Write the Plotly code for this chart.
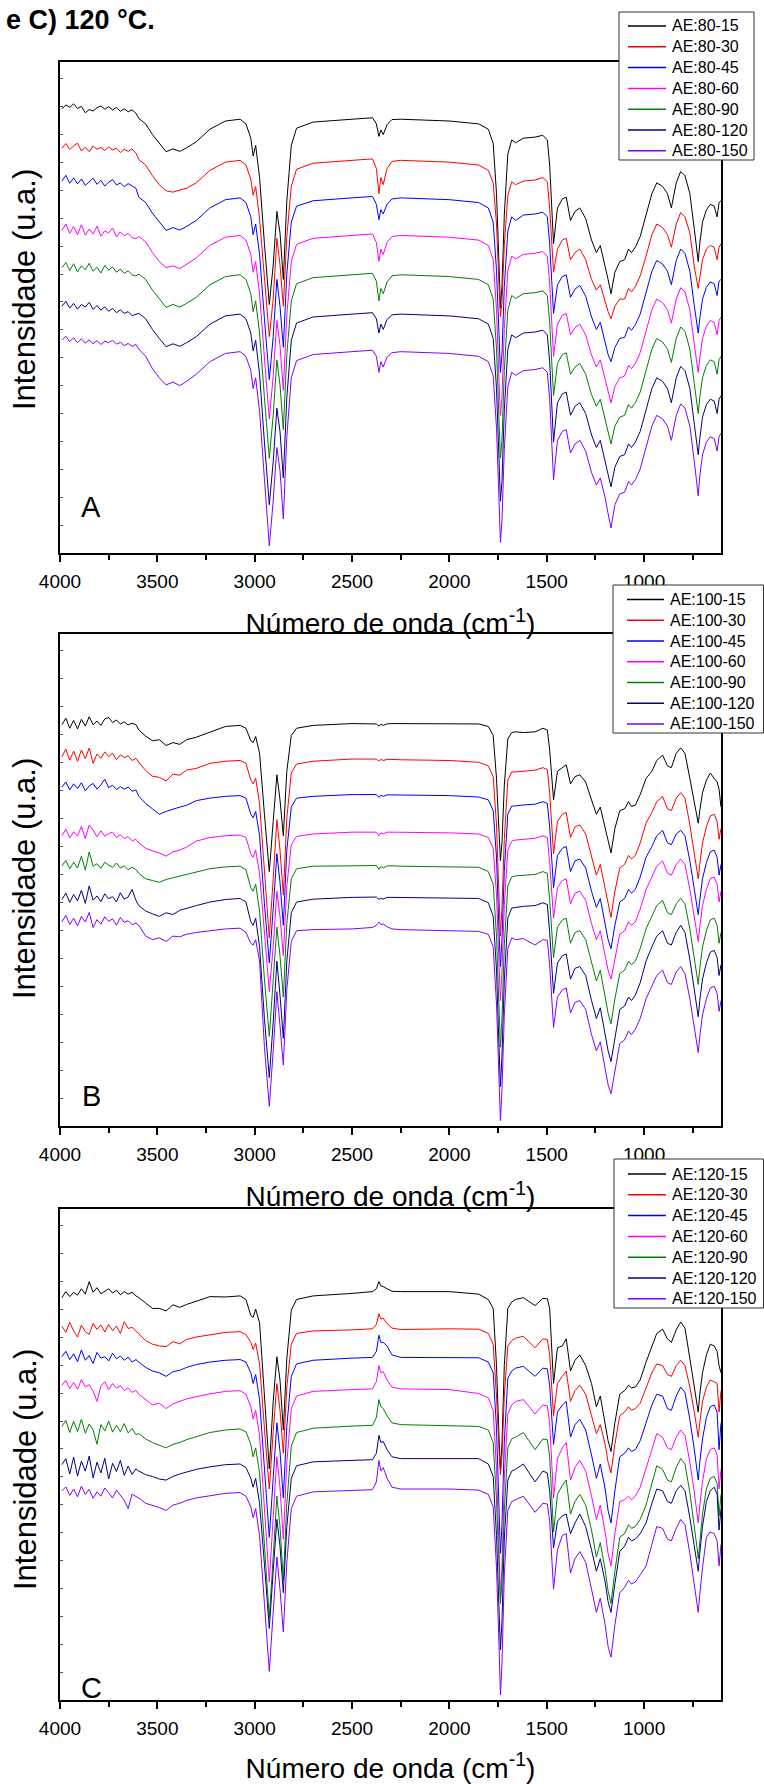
import plotly.graph_objects as go

# Wavenumbers (cm-1) at which the spectra were read
W = [3990, 3970, 3950, 3930, 3910, 3890, 3870, 3850, 3830, 3810, 3790, 3770, 3750, 3730, 3710, 3690, 3670, 3650, 3630, 3610,
     3595, 3560, 3525, 3490, 3455, 3420, 3385, 3350, 3300, 3230, 3150, 3075,
     3045, 3020, 3008, 2995, 2975, 2950, 2925, 2905, 2886, 2870, 2853, 2835, 2812, 2785,
     2700, 2500, 2395, 2375, 2362, 2352, 2340, 2320, 2295, 2250, 2000, 1850,
     1800, 1775, 1758, 1745, 1738, 1730, 1718, 1700, 1680,
     1660, 1620, 1560, 1520, 1497, 1485,
     1465, 1445, 1420, 1400, 1378, 1355, 1330, 1300, 1270, 1245, 1225, 1200, 1185, 1170, 1150, 1125, 1100, 1080, 1065, 1045, 1020,
     990, 960, 935, 905, 880, 860, 835, 812, 790, 765, 742, 728, 722, 714, 700, 680, 660, 640, 625, 615, 605]

# ---------------- Panel A (80 °C) ----------------
A_80_15 = [124.2, 125.3, 124.6, 125.6, 124.3, 124.9, 123.1, 124.0, 123.6, 124.5, 125.0, 124.1, 124.8, 123.9, 124.6, 123.5, 124.2, 123.4, 123.9, 123.0,
           121.5, 120.0, 117.0, 114.5, 112.2, 113.0, 112.3, 113.3, 115.0, 118.5, 120.8, 121.3,
           120.0, 116.0, 111.0, 114.0, 105.0, 86.5, 69.5, 80.5, 95.5, 89.5, 76.5, 98.5, 114.0, 118.8,
           120.5, 121.3, 121.7, 120.0, 116.5, 118.3, 117.0, 119.8, 121.2, 121.3, 120.8, 120.0,
           118.5, 114.5, 100.5, 80.5, 68.5, 74.5, 94.5, 111.5, 115.5,
           114.7, 116.0, 116.3, 116.8, 115.5, 108.5,
           86.5, 96.5, 99.0, 99.5, 93.0, 95.5, 96.5, 93.5, 87.5, 84.0, 86.0, 80.5, 76.5, 72.5, 78.5, 81.5, 82.0, 85.0, 84.0, 85.5, 88.5,
           94.5, 100.5, 103.5, 102.5, 100.5, 96.5, 103.5, 106.7, 105.5, 100.5, 90.5, 84.5, 81.5, 86.5, 92.5, 96.0, 97.5, 97.0, 94.0, 98.0, 98.5]
A_80_30 = [113.2, 114.5, 112.8, 113.9, 114.6, 112.4, 113.5, 112.2, 113.8, 112.9, 113.4, 112.5, 113.6, 112.7, 113.2, 112.0, 112.9, 112.3, 113.0, 111.8,
           110.0, 108.5, 105.5, 103.0, 101.3, 100.9, 101.5, 102.0, 103.5, 107.0, 109.3, 109.8,
           108.5, 104.5, 100.0, 102.5, 93.5, 76.5, 60.5, 71.0, 88.0, 80.5, 69.0, 88.5, 102.5, 107.3,
           109.0, 109.8, 110.2, 107.5, 100.5, 105.0, 103.0, 107.5, 109.5, 109.8, 109.3, 108.5,
           107.0, 103.5, 92.0, 74.5, 66.0, 70.0, 86.0, 100.0, 103.8,
           103.0, 104.0, 104.3, 105.0, 103.8, 96.5,
           78.5, 85.0, 87.5, 88.0, 82.0, 84.0, 85.0, 82.0, 76.5, 73.5, 75.0, 70.0, 67.5, 65.5, 69.0, 71.0, 71.0, 74.0, 73.0, 74.5, 77.5,
           83.0, 89.0, 92.0, 91.0, 89.0, 85.5, 92.0, 95.2, 94.0, 89.5, 80.0, 76.0, 74.0, 77.0, 82.0, 85.0, 86.0, 85.5, 82.0, 85.5, 86.5]
A_80_45 = [104.0, 105.6, 103.4, 104.9, 103.2, 104.6, 102.8, 103.9, 104.8, 103.1, 104.2, 102.6, 103.7, 104.4, 102.9, 103.5, 102.4, 103.3, 102.7, 102.0,
           99.5, 98.0, 95.0, 92.5, 90.2, 91.0, 90.3, 91.3, 93.0, 96.5, 98.8, 99.3,
           98.0, 94.0, 89.0, 92.0, 83.5, 65.5, 48.5, 60.5, 76.5, 69.0, 57.5, 78.0, 92.5, 97.0,
           98.5, 99.3, 99.7, 97.5, 93.2, 96.0, 94.8, 97.5, 99.0, 99.3, 98.8, 98.0,
           96.5, 92.5, 79.0, 61.0, 50.5, 55.5, 74.5, 90.0, 94.0,
           93.0, 94.5, 94.8, 95.3, 94.0, 86.5,
           67.0, 75.0, 77.3, 77.8, 71.5, 73.8, 74.8, 71.8, 66.0, 62.5, 64.5, 59.0, 55.5, 53.5, 57.5, 60.0, 60.3, 63.2, 62.3, 63.8, 66.8,
           72.8, 78.8, 81.8, 80.8, 78.8, 75.0, 81.8, 85.0, 83.8, 78.8, 69.0, 63.5, 61.5, 65.5, 71.0, 74.3, 75.8, 75.3, 72.0, 76.0, 76.5]
A_80_60 = [90.2, 92.0, 89.4, 91.3, 89.0, 91.8, 88.9, 90.6, 89.2, 91.4, 88.6, 90.1, 89.5, 90.9, 88.4, 89.8, 88.7, 89.4, 88.2, 87.9,
           88.5, 87.0, 84.0, 81.5, 79.8, 80.3, 79.5, 80.8, 82.5, 86.0, 88.3, 88.8,
           87.5, 83.5, 78.5, 81.5, 72.5, 54.5, 37.5, 49.5, 65.0, 58.0, 45.5, 66.5, 81.5, 86.3,
           88.0, 88.8, 89.2, 86.8, 81.6, 85.0, 83.5, 86.8, 88.5, 88.8, 88.3, 87.5,
           86.0, 82.0, 68.0, 48.0, 38.5, 43.5, 62.5, 79.0, 83.0,
           82.2, 83.5, 83.8, 84.3, 83.0, 75.5,
           55.0, 64.0, 66.5, 67.0, 61.0, 63.0, 64.0, 61.0, 55.3, 52.0, 54.0, 48.5, 44.8, 42.0, 46.5, 49.0, 49.5, 52.5, 51.5, 53.0, 56.0,
           62.0, 68.0, 71.0, 70.0, 68.0, 64.3, 71.0, 74.2, 73.0, 68.0, 58.3, 52.5, 50.5, 54.5, 60.0, 63.5, 65.0, 64.5, 61.0, 65.0, 66.0]
A_80_90 = [79.8, 81.2, 79.0, 80.9, 78.6, 80.3, 79.2, 81.0, 78.8, 79.9, 78.3, 80.4, 79.1, 80.0, 78.5, 79.4, 78.2, 78.9, 77.8, 77.5,
           78.0, 76.5, 73.5, 71.0, 68.7, 69.5, 68.8, 69.8, 71.5, 75.0, 77.3, 77.8,
           76.5, 72.5, 67.5, 70.5, 61.5, 43.5, 26.5, 38.5, 54.0, 47.0, 34.5, 55.5, 70.5, 75.3,
           77.0, 77.8, 78.2, 76.0, 70.5, 74.0, 72.5, 75.8, 77.5, 77.8, 77.3, 76.5,
           75.0, 71.0, 57.0, 37.0, 26.5, 31.5, 51.0, 68.0, 72.0,
           71.2, 72.5, 72.8, 73.3, 72.0, 64.5,
           44.0, 53.0, 55.5, 56.0, 50.0, 52.0, 53.0, 50.0, 44.3, 41.0, 43.0, 37.5, 33.8, 30.5, 35.5, 38.0, 38.5, 41.5, 40.5, 42.0, 45.0,
           51.0, 57.0, 60.0, 59.0, 57.0, 53.3, 60.0, 63.2, 62.0, 57.0, 47.3, 41.5, 39.0, 43.5, 49.0, 52.5, 54.0, 53.5, 50.0, 54.0, 55.0]
A_80_120 = [69.0, 70.4, 68.5, 69.8, 68.2, 69.5, 68.8, 70.1, 68.1, 69.2, 67.9, 68.8, 67.6, 68.4, 67.2, 68.0, 67.0, 67.5, 66.4, 66.8,
            67.0, 65.5, 62.5, 60.0, 57.7, 58.5, 57.8, 58.8, 60.5, 64.0, 66.3, 66.8,
            65.5, 61.5, 56.5, 59.5, 50.0, 31.0, 13.5, 25.5, 40.5, 34.0, 21.0, 43.5, 59.5, 64.3,
            66.0, 66.8, 67.2, 65.5, 61.5, 64.0, 62.5, 65.3, 66.6, 66.8, 66.3, 65.5,
            64.0, 60.0, 46.0, 26.0, 14.5, 20.0, 40.0, 57.0, 61.0,
            60.2, 61.5, 61.8, 62.3, 61.0, 53.5,
            31.0, 42.0, 44.5, 45.0, 38.5, 41.0, 42.0, 39.0, 33.0, 29.5, 31.5, 26.0, 22.0, 18.5, 24.0, 27.0, 27.5, 30.5, 29.5, 31.0, 34.0,
            40.0, 46.0, 49.0, 48.0, 46.0, 42.0, 49.0, 52.2, 51.0, 46.0, 36.0, 30.0, 27.5, 32.0, 38.0, 41.5, 43.0, 42.5, 39.0, 43.0, 44.0]
A_80_150 = [59.5, 60.6, 59.1, 60.2, 58.8, 59.9, 58.7, 59.6, 58.5, 59.4, 58.3, 59.2, 58.8, 59.5, 58.4, 58.9, 58.0, 58.6, 57.8, 58.3,
            57.0, 55.0, 51.5, 49.0, 47.0, 47.8, 46.8, 48.0, 50.0, 53.5, 55.8, 56.3,
            55.0, 51.0, 46.0, 49.0, 39.5, 20.0, 2.0, 14.5, 29.5, 23.0, 9.5, 32.5, 49.0, 53.8,
            55.5, 56.3, 56.7, 55.0, 50.5, 53.5, 52.0, 54.8, 56.0, 56.3, 55.8, 55.0,
            53.5, 49.5, 35.0, 14.5, 3.0, 9.0, 29.0, 46.5, 50.5,
            49.7, 51.0, 51.3, 51.8, 50.5, 43.0,
            20.5, 31.5, 34.0, 34.5, 28.0, 30.5, 31.5, 28.5, 22.5, 19.0, 21.0, 15.5, 11.0, 7.0, 13.5, 16.5, 17.0, 20.0, 19.0, 20.5, 23.5,
            29.5, 35.5, 38.5, 37.5, 35.5, 31.5, 38.5, 41.7, 40.5, 35.5, 25.5, 19.5, 16.0, 21.5, 27.5, 31.0, 32.5, 32.0, 28.5, 32.5, 33.5]

# ---------------- Panel B (100 °C) ----------------
B_100_15 = [112.0, 113.8, 111.0, 113.2, 110.8, 113.5, 111.6, 114.2, 112.0, 113.0, 111.8, 113.6, 114.0, 112.6, 113.3, 112.2, 112.8, 111.9, 112.4, 112.0,
            110.5, 108.8, 107.5, 107.8, 106.2, 107.0, 106.5, 107.8, 108.5, 110.0, 111.5, 111.8,
            111.0, 107.5, 107.0, 108.7, 104.0, 87.0, 71.0, 85.0, 98.0, 91.0, 81.0, 99.0, 109.0, 111.0,
            111.8, 112.3, 112.3, 112.2, 111.6, 112.1, 111.8, 112.2, 112.3, 112.3, 112.4, 112.2,
            111.5, 109.0, 97.0, 79.0, 74.0, 79.0, 95.0, 108.0, 109.8,
            110.0, 109.8, 110.0, 111.0, 110.5, 105.0,
            91.0, 99.0, 100.0, 100.8, 95.5, 97.5, 98.0, 96.0, 91.0, 87.0, 89.0, 83.0, 79.0, 76.2, 83.0, 88.0, 88.5, 90.5, 89.2, 89.5, 92.5,
            97.0, 99.0, 102.0, 103.5, 100.5, 100.0, 104.0, 105.5, 104.0, 97.0, 90.0, 85.5, 84.5, 88.0, 93.0, 96.5, 98.5, 97.0, 96.0, 94.0, 89.0]
B_100_30 = [103.0, 105.2, 102.1, 104.6, 101.8, 104.9, 102.5, 105.5, 101.2, 103.8, 102.6, 104.4, 103.1, 104.0, 102.2, 103.6, 102.8, 103.3, 102.0, 102.6,
            101.5, 99.2, 97.6, 97.3, 96.3, 98.2, 97.9, 99.3, 99.8, 101.2, 101.8, 102.0,
            101.2, 96.5, 95.5, 97.0, 90.0, 70.0, 52.5, 69.0, 85.5, 77.0, 64.5, 86.0, 98.5, 101.0,
            101.8, 102.4, 102.5, 102.4, 101.8, 102.3, 102.0, 102.3, 102.3, 102.2, 102.0, 101.5,
            100.5, 97.5, 84.0, 63.0, 53.0, 61.0, 80.0, 96.5, 98.8,
            98.8, 99.0, 99.3, 100.0, 99.5, 93.0,
            76.0, 85.0, 87.0, 87.5, 80.5, 83.5, 84.0, 81.5, 75.0, 70.0, 73.0, 66.0, 61.5, 58.2, 65.5, 72.0, 73.0, 75.5, 74.5, 75.5, 79.0,
            84.5, 87.5, 90.5, 92.0, 88.5, 88.0, 91.5, 93.0, 91.5, 84.0, 76.0, 71.0, 69.0, 73.0, 79.0, 83.5, 86.5, 87.0, 85.0, 80.0, 83.0]
B_100_45 = [94.6, 96.0, 93.8, 95.5, 94.2, 95.8, 93.5, 94.9, 95.6, 94.0, 95.2, 96.8, 94.4, 95.1, 93.9, 94.7, 94.0, 94.6, 93.4, 93.8,
            92.0, 90.0, 88.5, 87.0, 87.8, 88.5, 89.0, 89.5, 90.8, 91.5, 92.0, 92.2,
            91.5, 87.0, 86.0, 87.8, 81.0, 62.0, 45.5, 60.5, 76.0, 68.0, 56.0, 77.0, 89.0, 91.5,
            92.0, 92.5, 92.6, 92.5, 91.7, 92.3, 92.0, 92.4, 92.4, 92.4, 92.2, 91.8,
            91.0, 88.0, 75.0, 54.0, 44.5, 52.0, 71.0, 87.0, 89.3,
            89.3, 89.6, 89.8, 90.5, 90.0, 83.5,
            66.5, 75.5, 77.5, 78.0, 71.0, 74.0, 74.5, 72.0, 65.5, 61.0, 63.5, 56.5, 52.0, 49.5, 56.0, 62.5, 63.5, 66.0, 65.0, 66.0, 69.5,
            75.0, 78.0, 81.0, 82.5, 79.0, 78.5, 81.5, 82.5, 81.0, 74.0, 66.0, 61.0, 59.0, 63.0, 69.0, 73.5, 76.5, 77.0, 75.0, 70.0, 73.0]
B_100_60 = [81.0, 82.8, 80.4, 82.1, 80.9, 83.6, 80.2, 84.0, 82.6, 80.7, 82.4, 80.9, 81.6, 82.0, 80.5, 81.3, 80.2, 80.8, 79.6, 80.0,
            79.0, 77.5, 76.8, 76.2, 75.3, 76.5, 77.0, 77.8, 79.5, 80.5, 81.0, 81.2,
            80.5, 76.0, 75.0, 77.0, 70.5, 53.0, 37.5, 50.0, 65.5, 58.5, 47.5, 67.0, 78.5, 80.8,
            81.5, 82.0, 82.1, 82.0, 81.0, 81.8, 81.5, 82.0, 82.0, 82.0, 81.8, 81.5,
            80.5, 77.5, 64.5, 45.0, 35.0, 43.0, 61.5, 77.0, 79.5,
            79.8, 80.0, 80.3, 81.0, 80.5, 73.5,
            58.0, 66.5, 68.5, 69.0, 62.0, 65.0, 65.5, 63.0, 56.5, 52.0, 54.5, 47.5, 43.5, 41.0, 47.0, 53.5, 54.5, 57.0, 56.0, 57.0, 60.5,
            66.0, 69.5, 72.5, 74.0, 70.5, 70.0, 73.0, 74.5, 73.0, 66.0, 58.0, 53.5, 51.5, 55.5, 61.5, 66.0, 69.0, 69.5, 67.5, 62.5, 65.5]
B_100_90 = [72.6, 74.1, 71.8, 73.6, 72.0, 75.3, 71.4, 76.5, 72.5, 73.2, 71.9, 73.6, 72.8, 72.2, 73.4, 72.0, 72.6, 71.5, 72.2, 71.6,
            70.5, 69.0, 68.5, 68.0, 68.8, 69.3, 69.8, 70.3, 71.0, 71.8, 72.3, 72.5,
            71.5, 66.5, 65.5, 67.5, 60.0, 41.0, 25.0, 39.5, 55.5, 47.5, 36.0, 56.5, 69.0, 71.8,
            72.5, 72.6, 72.8, 72.7, 71.6, 72.4, 72.0, 72.6, 72.6, 72.5, 72.3, 72.2,
            71.0, 67.5, 53.0, 32.0, 22.0, 30.0, 50.5, 67.0, 69.5,
            69.8, 70.0, 70.2, 71.0, 70.5, 63.0,
            47.0, 55.5, 57.5, 58.0, 51.0, 54.0, 54.5, 52.0, 45.5, 40.5, 43.5, 36.0, 31.5, 28.5, 35.5, 42.5, 43.5, 46.0, 45.0, 46.0, 49.5,
            55.0, 58.5, 61.5, 63.0, 59.5, 59.0, 62.0, 63.5, 62.0, 55.0, 47.0, 42.0, 39.5, 44.0, 50.0, 54.5, 57.5, 58.0, 56.0, 51.0, 54.0]
B_100_120 = [63.2, 65.0, 62.4, 64.6, 62.8, 65.8, 62.1, 67.0, 63.0, 64.2, 62.6, 64.8, 63.4, 64.0, 62.5, 65.1, 63.3, 63.9, 66.0, 63.0,
             61.5, 60.0, 59.2, 58.5, 59.5, 59.0, 60.2, 60.8, 61.5, 62.5, 63.2, 63.5,
             62.5, 57.0, 56.0, 58.0, 50.0, 30.0, 13.5, 29.0, 46.0, 36.5, 24.5, 46.0, 59.5, 62.5,
             63.3, 63.8, 63.9, 63.9, 63.2, 63.6, 63.3, 63.8, 63.8, 63.8, 63.6, 63.5,
             62.3, 58.5, 43.5, 22.0, 11.0, 19.5, 40.5, 58.0, 60.8,
             61.0, 61.3, 61.5, 62.3, 61.8, 54.0,
             37.0, 45.5, 47.5, 48.0, 41.0, 44.0, 44.5, 42.0, 35.0, 30.0, 33.0, 25.5, 21.0, 18.0, 25.0, 32.5, 33.5, 36.0, 35.0, 36.5, 40.0,
             46.0, 50.0, 53.0, 54.5, 51.0, 50.5, 54.0, 56.0, 54.0, 46.5, 38.0, 33.0, 30.5, 35.0, 41.0, 45.5, 48.5, 49.0, 47.0, 42.0, 45.0]
B_100_150 = [57.0, 58.8, 56.2, 58.0, 55.8, 58.5, 56.9, 59.6, 55.4, 57.6, 56.3, 58.4, 57.1, 57.8, 56.0, 58.2, 56.8, 57.3, 56.2, 56.6,
             56.0, 53.0, 52.0, 52.5, 51.5, 53.0, 52.8, 53.5, 54.0, 54.5, 55.0, 55.2,
             54.0, 51.0, 50.5, 52.0, 46.0, 22.0, 5.5, 21.0, 37.5, 28.0, 17.0, 38.0, 51.5, 54.5,
             54.8, 55.0, 55.4, 56.0, 56.9, 56.2, 56.4, 55.6, 55.0, 54.8, 54.6, 54.3,
             53.5, 50.0, 34.0, 12.0, 1.5, 10.0, 31.0, 49.5, 52.5,
             52.0, 52.3, 50.5, 52.0, 51.8, 45.0,
             27.5, 36.0, 38.0, 38.5, 31.5, 34.5, 35.0, 32.5, 25.5, 21.0, 23.5, 16.0, 11.5, 9.0, 15.5, 23.0, 24.0, 26.5, 25.5, 27.0, 30.0,
             35.5, 39.0, 42.0, 43.5, 40.0, 39.5, 43.0, 44.5, 42.5, 35.5, 27.5, 22.5, 20.5, 25.0, 31.0, 35.5, 38.5, 39.0, 37.0, 32.0, 35.0]

# ---------------- Panel C (120 °C) ----------------
C_120_15 = [112.5, 114.2, 112.8, 114.0, 113.2, 115.0, 113.5, 117.0, 114.0, 115.3, 113.6, 114.4, 115.0, 113.8, 114.6, 113.3, 114.2, 113.5, 114.0, 113.0,
            112.5, 111.0, 109.5, 109.5, 108.8, 110.5, 109.8, 110.6, 111.5, 112.8, 112.7, 113.0,
            112.0, 107.5, 107.0, 109.3, 105.5, 85.5, 64.7, 83.5, 96.0, 89.5, 75.5, 95.5, 109.0, 112.0,
            113.0, 113.7, 114.2, 115.0, 117.0, 115.8, 115.6, 115.0, 114.3, 114.2, 114.2, 113.5,
            112.0, 109.5, 93.5, 73.5, 64.5, 71.5, 93.5, 109.5, 111.3,
            112.0, 112.5, 110.3, 112.3, 112.2, 109.5,
            88.5, 98.5, 99.0, 101.0, 92.0, 95.0, 96.5, 93.5, 88.5, 82.0, 85.0, 77.5, 72.5, 69.5, 77.5, 85.5, 86.5, 88.0, 87.3, 87.5, 89.5,
            94.5, 99.0, 102.5, 103.7, 101.0, 100.0, 103.5, 105.7, 104.0, 95.5, 87.5, 82.5, 80.5, 85.5, 91.5, 96.5, 99.5, 99.0, 97.5, 93.5, 91.5]
C_120_30 = [104.5, 102.8, 105.6, 103.2, 101.5, 104.8, 103.0, 102.2, 105.3, 103.6, 104.9, 102.9, 105.0, 103.3, 104.6, 102.5, 105.8, 103.9, 104.2, 103.1,
            102.5, 100.5, 99.5, 99.0, 98.8, 100.2, 99.6, 100.8, 101.5, 102.2, 102.8, 103.0,
            102.2, 100.0, 98.0, 99.8, 94.0, 76.0, 59.0, 75.0, 88.5, 81.0, 69.0, 87.5, 99.5, 102.5,
            103.2, 103.5, 103.8, 105.0, 108.0, 106.5, 106.8, 105.2, 104.0, 103.6, 103.8, 103.7,
            102.5, 99.5, 85.0, 70.0, 63.0, 68.0, 85.0, 99.0, 100.5,
            101.2, 101.7, 98.5, 101.0, 100.8, 96.5,
            79.5, 88.5, 90.5, 92.0, 83.5, 86.5, 88.0, 85.5, 79.5, 74.5, 77.0, 71.5, 66.5, 63.5, 71.5, 79.5, 80.5, 82.0, 81.0, 81.5, 83.0,
            87.0, 91.5, 94.0, 93.5, 91.0, 90.5, 93.5, 95.0, 93.5, 87.5, 80.5, 75.5, 73.5, 77.5, 83.5, 87.5, 89.5, 89.0, 88.5, 80.5, 86.5]
C_120_45 = [96.0, 97.5, 95.2, 96.8, 94.6, 97.9, 95.0, 96.3, 94.1, 97.2, 95.6, 96.0, 94.8, 97.0, 95.4, 96.2, 95.0, 95.9, 94.5, 95.2,
            94.5, 93.0, 92.0, 91.5, 90.5, 91.8, 92.2, 93.0, 93.8, 94.5, 95.0, 95.2,
            94.5, 91.5, 88.5, 91.0, 84.0, 65.0, 45.5, 62.0, 77.5, 69.5, 56.5, 76.5, 90.5, 94.0,
            95.0, 95.6, 95.8, 97.5, 102.0, 100.0, 100.0, 99.0, 96.5, 95.8, 95.8, 95.7,
            94.5, 91.5, 76.0, 54.0, 41.0, 49.0, 72.0, 90.0, 92.0,
            92.8, 93.3, 90.5, 92.8, 92.6, 88.0,
            71.5, 80.5, 82.5, 83.5, 73.5, 77.0, 78.5, 75.5, 68.5, 62.0, 66.0, 59.0, 53.0, 49.5, 58.5, 68.0, 69.0, 70.5, 69.5, 70.0, 72.5,
            77.5, 82.5, 85.5, 85.0, 81.5, 81.0, 85.0, 87.5, 86.0, 78.5, 70.0, 64.0, 61.5, 66.5, 73.0, 79.0, 82.0, 82.5, 80.5, 70.0, 77.5]
C_120_60 = [88.0, 89.4, 87.1, 88.8, 86.9, 89.6, 87.5, 88.2, 86.4, 83.5, 87.8, 89.0, 86.8, 88.5, 87.2, 87.9, 86.5, 87.3, 86.0, 86.6,
            85.5, 84.0, 82.5, 83.0, 81.5, 82.8, 83.5, 84.2, 84.8, 85.6, 86.3, 86.5,
            85.5, 82.0, 78.5, 81.0, 74.0, 54.0, 33.0, 51.0, 68.0, 59.5, 45.0, 66.5, 81.5, 85.0,
            86.3, 86.8, 87.0, 89.0, 93.5, 91.5, 91.8, 89.5, 87.5, 87.0, 86.8, 85.7,
            84.5, 81.0, 64.5, 42.0, 28.5, 37.0, 62.0, 80.0, 82.5,
            83.5, 84.0, 80.0, 82.5, 82.2, 77.5,
            56.5, 67.5, 70.5, 72.0, 61.5, 65.0, 67.0, 64.0, 57.0, 50.5, 54.5, 47.0, 41.0, 37.5, 46.5, 55.5, 56.0, 57.0, 56.0, 57.0, 59.5,
            64.5, 70.0, 74.5, 73.5, 70.5, 70.0, 73.5, 75.5, 74.0, 66.5, 58.0, 52.0, 49.5, 54.5, 61.0, 67.5, 70.0, 70.5, 68.5, 59.0, 64.5]
C_120_90 = [76.5, 78.2, 74.8, 77.9, 75.1, 78.5, 74.6, 77.2, 75.5, 71.5, 77.0, 75.2, 78.0, 74.9, 76.8, 75.0, 77.3, 74.7, 75.9, 74.2,
            74.5, 73.0, 72.0, 71.3, 70.5, 71.5, 72.0, 72.8, 73.6, 74.8, 75.5, 75.8,
            75.0, 71.5, 68.0, 70.5, 63.5, 44.0, 23.0, 40.0, 57.0, 48.5, 33.5, 55.0, 71.0, 74.8,
            76.0, 76.6, 76.8, 79.0, 84.0, 82.0, 81.5, 79.5, 77.5, 77.0, 76.8, 76.5,
            75.5, 72.0, 56.0, 38.0, 27.0, 33.5, 53.0, 70.5, 73.0,
            73.5, 74.8, 70.0, 73.0, 72.8, 68.0,
            47.0, 57.5, 60.0, 61.5, 52.0, 55.5, 57.5, 54.5, 47.5, 40.0, 44.0, 36.5, 30.5, 27.0, 36.0, 45.5, 46.5, 49.0, 48.0, 48.5, 50.5,
            54.5, 60.5, 65.5, 64.5, 61.5, 61.0, 65.0, 67.5, 66.0, 58.0, 49.0, 42.5, 39.5, 45.0, 52.0, 59.0, 62.0, 62.5, 60.5, 51.5, 57.5]
C_120_120 = [65.8, 67.5, 63.2, 67.9, 62.6, 66.8, 64.0, 68.2, 62.1, 66.5, 63.5, 67.6, 61.8, 66.2, 63.9, 67.0, 62.8, 65.4, 63.1, 64.6,
             64.0, 63.0, 62.5, 61.8, 61.5, 62.5, 63.2, 63.8, 64.5, 65.2, 65.8, 66.0,
             65.0, 62.0, 59.5, 62.0, 55.0, 38.0, 20.0, 36.0, 50.5, 43.0, 30.0, 48.5, 62.0, 65.5,
             66.6, 67.0, 67.2, 69.0, 74.0, 72.0, 72.3, 70.0, 68.0, 67.5, 67.5, 67.5,
             66.0, 62.5, 46.0, 26.0, 14.0, 22.0, 45.0, 61.5, 64.0,
             64.5, 66.0, 61.0, 64.0, 63.5, 58.5,
             42.5, 50.0, 51.5, 52.0, 46.5, 49.5, 52.0, 48.5, 42.0, 36.0, 39.5, 33.0, 27.5, 24.5, 32.5, 41.5, 43.0, 45.5, 44.5, 45.0, 46.5,
             49.5, 55.0, 59.0, 58.5, 55.5, 55.0, 58.5, 60.0, 58.5, 51.0, 43.5, 38.5, 36.0, 41.0, 48.5, 55.5, 58.5, 59.5, 57.5, 47.5, 53.5]
C_120_150 = [58.5, 59.6, 57.2, 59.0, 56.8, 59.8, 57.5, 58.9, 56.4, 58.2, 57.0, 59.3, 58.0, 56.5, 58.7, 57.3, 55.8, 53.5, 57.6, 56.9,
             56.5, 55.0, 54.5, 53.8, 53.0, 54.5, 55.0, 55.8, 56.5, 57.2, 57.8, 58.0,
             57.0, 54.0, 51.0, 53.5, 46.0, 27.0, 8.0, 24.5, 40.0, 31.0, 19.0, 38.5, 53.5, 57.0,
             58.2, 58.6, 58.8, 61.0, 67.0, 64.0, 65.0, 62.0, 59.5, 59.0, 59.0, 58.7,
             57.5, 54.0, 37.0, 15.0, 1.5, 10.0, 35.0, 53.0, 55.5,
             56.0, 57.0, 52.5, 55.0, 54.8, 50.0,
             31.0, 42.0, 46.0, 46.5, 35.5, 39.5, 41.5, 38.5, 31.0, 24.5, 28.5, 21.0, 15.0, 12.0, 21.0, 30.0, 31.5, 33.5, 32.5, 33.0, 35.0,
             37.5, 43.5, 48.5, 48.0, 45.0, 44.5, 48.0, 50.5, 49.0, 41.0, 32.0, 26.5, 24.5, 29.5, 37.0, 45.5, 47.0, 46.5, 44.5, 37.5, 43.5]

TIMES = ["15", "30", "45", "60", "90", "120", "150"]
COLORS = ["#000000", "#FF0000", "#0000FF", "#FF00FF", "#008000", "#000080", "#8000FF"]

PANELS = [
    ("80", [A_80_15, A_80_30, A_80_45, A_80_60, A_80_90, A_80_120, A_80_150], "A"),
    ("100", [B_100_15, B_100_30, B_100_45, B_100_60, B_100_90, B_100_120, B_100_150], "B"),
    ("120", [C_120_15, C_120_30, C_120_45, C_120_60, C_120_90, C_120_120, C_120_150], "C"),
]

FONT = "Arial, Liberation Sans, sans-serif"
FIG_W, FIG_H = 764, 1784
def px(x):
    return x / FIG_W
def py(y):
    return 1 - y / FIG_H

# layout geometry in page pixels
BOXES = [(62, 553), (634, 1126), (1209, 1700)]          # plot top / bottom
LEFT, RIGHT = 60, 721
YTITLE_Y = [290, 879, 1470]
LETTER_Y = [507, 1096, 1688]
# legend boxes: (x0, y0, x1, y1, first row y, row step, line x0, line x1, text x)
LEGENDS = [(619, 12, 754, 160, 26, 20.8, 628, 666, 670),
           (613, 585, 763.5, 733, 599.5, 20.75, 627, 664, 668),
           (614, 1159, 763.5, 1308, 1174, 20.8, 628, 666, 670)]

fig = go.Figure()
for i, (temp, series, letter) in enumerate(PANELS):
    sfx = "" if i == 0 else str(i + 1)
    for j, vals in enumerate(series):
        assert len(vals) == len(W), (temp, j, len(vals))
        fig.add_trace(go.Scatter(
            x=W, y=vals, mode="lines",
            line=dict(color=COLORS[j], width=1),
            name=f"AE:{temp}-{TIMES[j]}",
            xaxis="x" + sfx, yaxis="y" + sfx,
            showlegend=False,
        ))

layout = dict(
    width=FIG_W, height=FIG_H,
    margin=dict(l=0, r=0, t=0, b=0),
    paper_bgcolor="white", plot_bgcolor="white",
    font=dict(family=FONT, color="black"),
    showlegend=False,
)
annotations = [dict(text="<b>e C) 120 °C.</b>", x=px(4), y=py(20), xref="paper", yref="paper",
                    xanchor="left", yanchor="middle", showarrow=False,
                    font=dict(size=27, family=FONT, color="black"))]
shapes = []
for i, (temp, series, letter) in enumerate(PANELS):
    sfx = "" if i == 0 else str(i + 1)
    top, bot = BOXES[i]
    layout["xaxis" + sfx] = dict(
        domain=[px(LEFT), px(RIGHT)], anchor="y" + sfx,
        range=[4000, 605], tickmode="linear", tick0=0, dtick=500,
        ticks="outside", ticklen=7, tickwidth=1.5, tickcolor="black",
        minor=dict(ticks="outside", ticklen=5, tickwidth=1.5, tickcolor="black", tick0=0, dtick=250),
        ticklabelstandoff=3,
        showline=True, linewidth=2, linecolor="black", mirror=True,
        showgrid=False, zeroline=False,
        tickfont=dict(size=19, family=FONT, color="black"),
        title=dict(text="Número de onda (cm<sup>-1</sup>)", standoff=23,
                   font=dict(size=28, family=FONT, color="black")),
        automargin=False,
    )
    layout["yaxis" + sfx] = dict(
        domain=[py(bot), py(top)], anchor="x" + sfx,
        range=[0, 137.3], showticklabels=False,
        ticks="inside", ticklen=3, tickwidth=1, tickcolor="#555", tick0=0, dtick=7.8,
        showline=True, linewidth=2, linecolor="black", mirror=True,
        showgrid=False, zeroline=False, automargin=False,
    )
    # legend drawn as a framed box with line samples and labels
    x0, y0, x1, y1, r0, step, lx0, lx1, tx = LEGENDS[i]
    shapes.append(dict(type="rect", xref="paper", yref="paper", x0=px(x0), x1=px(x1), y0=py(y1), y1=py(y0),
                       line=dict(color="#333333", width=1), fillcolor="white", layer="above"))
    for j in range(len(series)):
        ry = r0 + j * step
        shapes.append(dict(type="line", xref="paper", yref="paper", x0=px(lx0), x1=px(lx1), y0=py(ry), y1=py(ry),
                           line=dict(color=COLORS[j], width=1.5), layer="above"))
        annotations.append(dict(text=f"AE:{temp}-{TIMES[j]}", x=px(tx), y=py(ry), xref="paper", yref="paper",
                                xanchor="left", yanchor="middle", showarrow=False,
                                font=dict(size=16, family=FONT, color="black")))
    annotations.append(dict(text="Intensidade (u.a.)", x=px(25), y=py(YTITLE_Y[i]), textangle=-90,
                            xref="paper", yref="paper", xanchor="center", yanchor="middle", showarrow=False,
                            font=dict(size=31, family=FONT, color="black")))
    annotations.append(dict(text=letter, x=px(91), y=py(LETTER_Y[i]),
                            xref="paper", yref="paper", xanchor="center", yanchor="middle", showarrow=False,
                            font=dict(size=29, family=FONT, color="black")))
layout["annotations"] = annotations
layout["shapes"] = shapes
fig.update_layout(**layout)

fig.write_html("out.html")
